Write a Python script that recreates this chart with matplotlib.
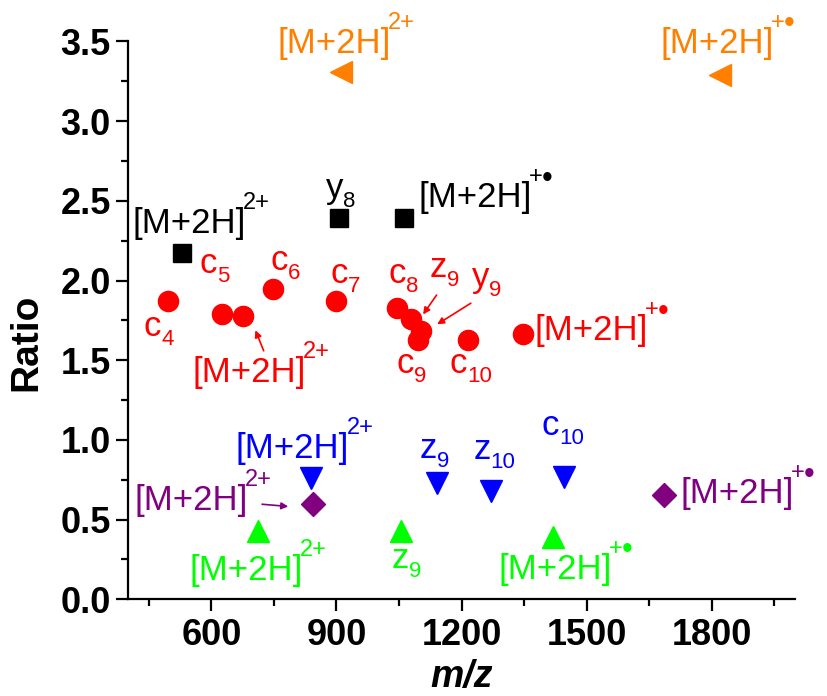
import matplotlib
matplotlib.use("Agg")
import matplotlib.pyplot as plt
import numpy as np

plt.rcParams['font.family'] = ['Liberation Sans', 'DejaVu Sans']

# data (m/z, ratio)
black_mz = [530, 905, 1061]
black_ratio = [2.17, 2.39, 2.39]

red_mz = [497, 625, 675, 748, 899, 1046, 1080, 1104, 1096, 1216, 1348]
red_ratio = [1.87, 1.79, 1.78, 1.945, 1.87, 1.83, 1.76, 1.685, 1.627, 1.627, 1.664]

blue_mz = [839, 1142, 1270, 1445]
blue_ratio = [0.76, 0.728, 0.68, 0.77]

purple_mz = [843, 1685]
purple_ratio = [0.60, 0.654]

green_mz = [713, 1056, 1420]
green_ratio = [0.43, 0.43, 0.39]

orange_mz = [910, 1821]
orange_ratio = [3.31, 3.29]

x_ticks = [600, 900, 1200, 1500, 1800]

RED = '#ff0000'
BLUE = '#0000ff'
PURPLE = '#800080'
GREEN = '#00ff00'
ORANGE = '#ff8000'

FS = 25
SUP_FS = 17
SUB_FS = 16

fig = plt.figure(figsize=(8.27, 6.96), dpi=100)
ax = fig.add_axes([0.1548, 0.1389, 0.8065, 0.8016])


def ion(x, y, color, radical=False):
    t = ax.text(x, y, '[M+2H]', color=color, fontsize=FS, ha='left', va='baseline')
    if radical:
        p = ax.annotate('+', xy=(1, 1), xycoords=t, xytext=(-2, -1.5), textcoords='offset points',
                        fontsize=SUP_FS, color=color, ha='left', va='baseline')
        ax.annotate('\u2022', xy=(1, 0), xycoords=p, xytext=(-0.5, 1), textcoords='offset points',
                    fontsize=22, color=color, ha='left', va='baseline')
    else:
        ax.annotate('2+', xy=(1, 1), xycoords=t, xytext=(-2, -1.5), textcoords='offset points',
                    fontsize=SUP_FS, color=color, ha='left', va='baseline')


def frag(x, y, letter, n, color):
    t = ax.text(x, y, letter, color=color, fontsize=FS, ha='left', va='baseline')
    ax.annotate(str(n), xy=(1, 0), xycoords=t, xytext=(0, -1.5), textcoords='offset points',
                fontsize=SUB_FS, color=color, ha='left', va='baseline')


ax.plot(black_mz, black_ratio, 's', color='black', ms=12.5, ls='none')
ax.plot(red_mz, red_ratio, 'o', color=RED, ms=14.5, ls='none')
ax.plot(blue_mz, blue_ratio, 'v', color=BLUE, ms=15.5, ls='none')
ax.plot(purple_mz, purple_ratio, 'D', color=PURPLE, ms=12.5, ls='none')
ax.plot(green_mz, green_ratio, '^', color=GREEN, ms=15.5, ls='none')
ax.plot(orange_mz, orange_ratio, '<', color=ORANGE, ms=16, ls='none')

# black
ion(410, 2.30, 'black')
frag(875, 2.52, 'y', 8, 'black')
ion(1096, 2.46, 'black', radical=True)

# red
frag(438, 1.65, 'c', 4, RED)
frag(571, 2.05, 'c', 5, RED)
frag(741, 2.066, 'c', 6, RED)
frag(885, 1.985, 'c', 7, RED)
frag(1026, 1.986, 'c', 8, RED)
frag(1124, 2.02, 'z', 9, RED)
frag(1224, 1.96, 'y', 9, RED)
frag(1044, 1.42, 'c', 9, RED)
frag(1172, 1.42, 'c', 10, RED)
ion(554, 1.365, RED)
ion(1374, 1.627, RED, radical=True)
arr = dict(arrowstyle='-|>', color=RED, lw=1.2, mutation_scale=10)
ax.annotate('', xy=(703, 1.704), xytext=(728, 1.543), arrowprops=arr)
ax.annotate('', xy=(1104, 1.773), xytext=(1144, 1.923), arrowprops=arr)
ax.annotate('', xy=(1136, 1.716), xytext=(1228, 1.867), arrowprops=arr)

# blue
ion(659, 0.885, BLUE)
frag(1100, 0.885, 'z', 9, BLUE)
frag(1228, 0.878, 'z', 10, BLUE)
frag(1392, 1.03, 'c', 10, BLUE)

# purple
ion(415, 0.56, PURPLE)
ax.annotate('', xy=(791, 0.581), xytext=(715, 0.598),
            arrowprops=dict(arrowstyle='-|>', color=PURPLE, lw=1.2, mutation_scale=10))
ion(1725, 0.602, PURPLE, radical=True)

# green
ion(548, 0.121, GREEN)
frag(1032, 0.194, 'z', 9, GREEN)
ion(1288, 0.13, GREEN, radical=True)

# orange
ion(759, 3.425, ORANGE)
ion(1677, 3.43, ORANGE, radical=True)

ax.set_xlim(400, 2000)
ax.set_ylim(0, 3.5)
ax.set_xticks(x_ticks)
ax.set_xticks(np.arange(450, 2000, 300), minor=True)
ax.set_yticks(np.arange(0, 3.51, 0.5))
ax.set_yticks(np.arange(0.25, 3.5, 0.5), minor=True)

for s in ['top', 'right']:
    ax.spines[s].set_visible(False)
for s in ['left', 'bottom']:
    ax.spines[s].set_linewidth(1.6)

ax.tick_params(which='major', direction='out', length=8.5, width=1.6, labelsize=26, pad=4)
ax.tick_params(which='minor', direction='out', length=5, width=1.6)
ax.tick_params(axis='x', which='major', pad=5)
for lab in ax.get_xticklabels() + ax.get_yticklabels():
    lab.set_fontweight('bold')

ax.set_ylabel('Ratio', fontsize=28, fontweight='bold')
ax.yaxis.set_label_coords(-0.125, 0.461)
ax.set_xlabel('m/z', fontsize=27, fontweight='bold', fontstyle='italic', labelpad=4)

fig.savefig('out.png', dpi=100)
